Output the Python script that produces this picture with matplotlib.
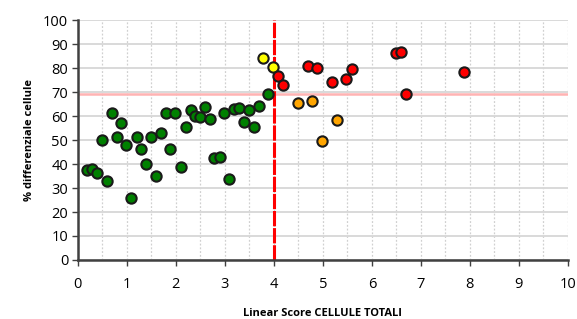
import matplotlib
matplotlib.use("Agg")
import matplotlib.pyplot as plt
from matplotlib.ticker import MultipleLocator

# data
green_x = [0.19, 0.29, 0.39, 0.49, 0.60, 0.69, 0.79, 0.89, 0.99, 1.09, 1.20, 1.29,
           1.40, 1.49, 1.59, 1.69, 1.79, 1.89, 1.99, 2.10, 2.20, 2.30, 2.39, 2.49,
           2.59, 2.69, 2.78, 2.90, 2.99, 3.09, 3.18, 3.29, 3.39, 3.49, 3.59, 3.69, 3.89]
green_y = [37.4, 37.8, 36.4, 49.9, 32.9, 61.2, 51.4, 57.0, 47.9, 25.8, 51.2, 46.1,
           40.0, 51.4, 35.1, 52.9, 61.2, 46.4, 61.2, 38.7, 55.4, 62.6, 59.9, 59.4,
           63.7, 58.9, 42.6, 42.9, 61.2, 33.6, 63.0, 63.2, 57.6, 62.4, 55.4, 64.2, 69.0]
yellow_x = [3.78, 3.99]
yellow_y = [84.3, 80.3]
orange_x = [4.49, 4.78, 4.99, 5.29]
orange_y = [65.4, 66.4, 49.7, 58.2]
red_x = [4.09, 4.19, 4.69, 4.88, 5.19, 5.48, 5.59, 6.49, 6.59, 6.69, 7.89]
red_y = [76.7, 72.8, 80.8, 80.0, 74.4, 75.4, 79.7, 86.4, 86.7, 69.3, 78.3]

x_threshold = 4
y_threshold = 69.3

plt.rcParams["font.family"] = ["Open Sans", "DejaVu Sans"]

fig = plt.figure(figsize=(5.77, 3.19), dpi=100)
ax = fig.add_axes([0.135, 0.185, 0.849, 0.752])
ax.set_axisbelow(True)

ax.set_xlim(0, 10)
ax.set_ylim(0, 100)
ax.xaxis.set_major_locator(MultipleLocator(1))
ax.xaxis.set_minor_locator(MultipleLocator(0.5))
ax.yaxis.set_major_locator(MultipleLocator(10))

ax.grid(axis="y", which="major", color="#d9d9d9", linewidth=1.4)
ax.grid(axis="x", which="both", color="#d0d0d0", linewidth=0.9, linestyle=(0, (1.5, 1.5)))

ax.axhline(y_threshold, color="#ffb3b3", linewidth=1.8, zorder=2)
ax.axvline(x_threshold, color="#ff0000", linewidth=2.2, linestyle=(0, (5, 0.6)), zorder=2)

style = dict(s=55, edgecolors="#1a1a1a", linewidths=1.5, zorder=3)
ax.scatter(green_x, green_y, c="#008000", **style)
ax.scatter(yellow_x, yellow_y, c="#ffff00", **style)
ax.scatter(orange_x, orange_y, c="#ffa500", **style)
ax.scatter(red_x, red_y, c="#ff0000", **style)

for s in ["top", "right"]:
    ax.spines[s].set_visible(False)
for s in ["left", "bottom"]:
    ax.spines[s].set_color("#404040")
    ax.spines[s].set_linewidth(1.8)

ax.tick_params(axis="both", which="major", labelsize=10.5, color="#404040", length=4, width=1, pad=3)
ax.tick_params(axis="x", which="minor", length=0)
ax.tick_params(axis="x", which="major", pad=8)

ax.set_xlabel("Linear Score CELLULE TOTALI", fontsize=8, fontweight="bold", labelpad=12)
ax.set_ylabel("% differenziale cellule", fontsize=8, fontweight="bold", labelpad=6)

fig.savefig("out.png", dpi=100)
